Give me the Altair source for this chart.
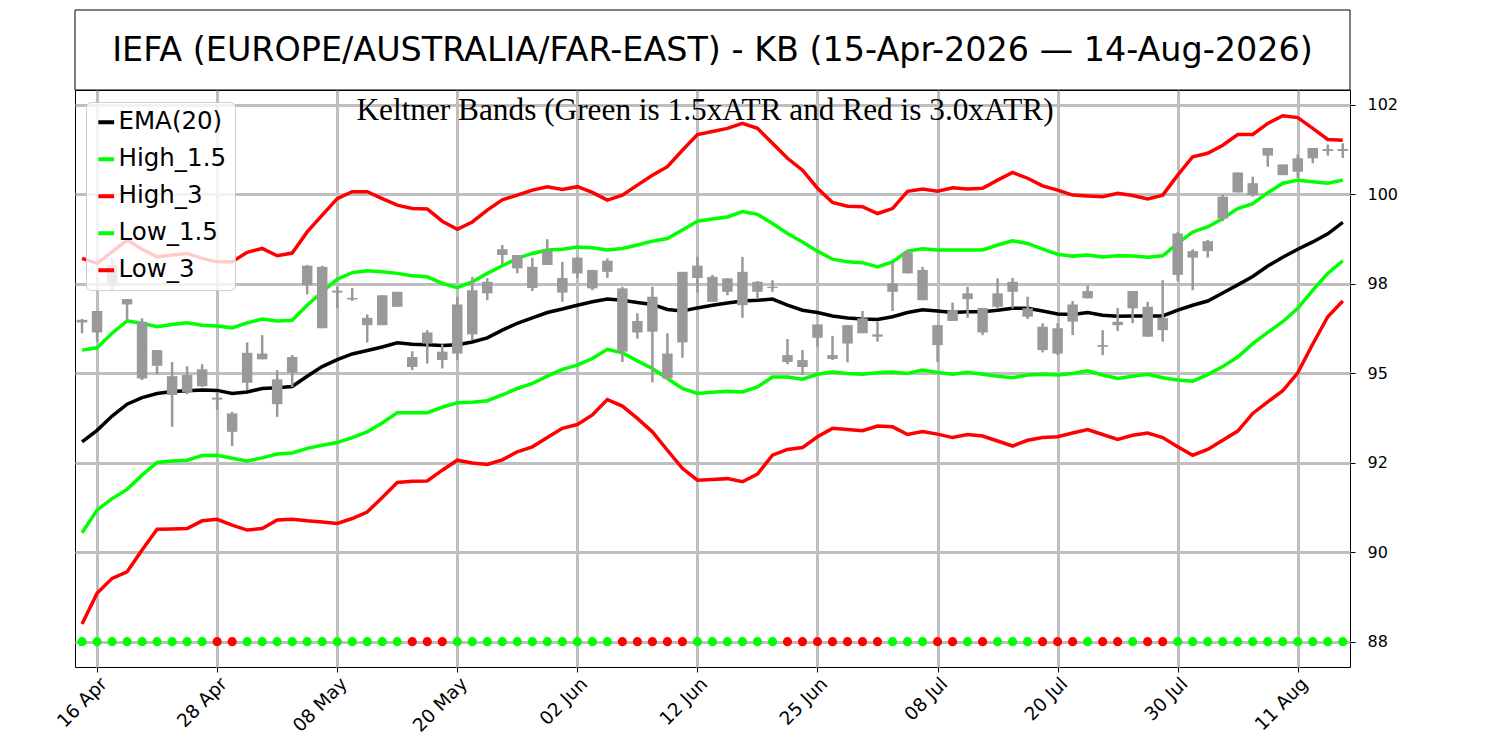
import altair as alt
import pandas as pd

# ---------------- data ----------------
title_text = "IEFA (EUROPE/AUSTRALIA/FAR-EAST) - KB (15-Apr-2026 \u2014 14-Aug-2026)"
subtitle_text = "Keltner Bands (Green is 1.5xATR and Red is 3.0xATR)"

day_index = list(range(85))

tick_idx = [1, 9, 17, 25, 33, 41, 49, 57, 65, 73, 81]
tick_labels = ["16 Apr", "28 Apr", "08 May", "20 May", "02 Jun", "12 Jun",
               "25 Jun", "08 Jul", "20 Jul", "30 Jul", "11 Aug"]

y_tick_vals = [88.0, 90.3333, 92.6667, 95.0, 97.3333, 99.6667, 102.0]
y_tick_labels = ["88", "90", "92", "95", "98", "100", "102"]

ema = [93.21, 93.51, 93.88, 94.19, 94.36, 94.47, 94.52, 94.54, 94.56, 94.55,
       94.47, 94.51, 94.60, 94.62, 94.65, 94.92, 95.17, 95.35, 95.50, 95.59,
       95.68, 95.79, 95.75, 95.74, 95.72, 95.74, 95.81, 95.92, 96.12, 96.30,
       96.44, 96.58, 96.67, 96.77, 96.86, 96.93, 96.90, 96.84, 96.79, 96.66,
       96.62, 96.70, 96.77, 96.83, 96.88, 96.90, 96.93, 96.77, 96.64, 96.58,
       96.49, 96.44, 96.41, 96.40, 96.47, 96.58, 96.65, 96.62, 96.58, 96.60,
       96.60, 96.64, 96.69, 96.69, 96.62, 96.54, 96.53, 96.58, 96.51, 96.48,
       96.49, 96.49, 96.49, 96.64, 96.77, 96.88, 97.09, 97.30, 97.52, 97.79,
       98.02, 98.23, 98.42, 98.63, 98.93]

high_15 = [95.60, 95.66, 96.04, 96.36, 96.30, 96.21, 96.27, 96.31, 96.25, 96.23,
           96.18, 96.31, 96.41, 96.36, 96.38, 96.77, 97.12, 97.45, 97.62, 97.67,
           97.64, 97.60, 97.54, 97.51, 97.34, 97.23, 97.38, 97.60, 97.80, 97.99,
           98.12, 98.21, 98.23, 98.29, 98.27, 98.21, 98.25, 98.34, 98.44, 98.51,
           98.73, 98.96, 99.02, 99.07, 99.21, 99.14, 98.90, 98.64, 98.42, 98.18,
           97.97, 97.90, 97.88, 97.77, 97.90, 98.18, 98.24, 98.21, 98.21, 98.21,
           98.21, 98.34, 98.45, 98.38, 98.23, 98.10, 98.05, 98.08, 98.03, 98.06,
           98.05, 98.02, 98.06, 98.38, 98.68, 98.81, 99.03, 99.29, 99.42, 99.70,
           99.95, 100.03, 99.99, 99.95, 100.03]

high_3 = [97.99, 97.86, 98.16, 98.47, 98.23, 98.03, 98.08, 98.12, 97.99, 97.90,
          97.90, 98.15, 98.25, 98.06, 98.13, 98.68, 99.12, 99.55, 99.73, 99.73,
          99.55, 99.38, 99.29, 99.28, 98.96, 98.75, 98.94, 99.25, 99.52, 99.64,
          99.77, 99.86, 99.79, 99.86, 99.71, 99.51, 99.64, 99.90, 100.16, 100.38,
          100.81, 101.22, 101.30, 101.38, 101.51, 101.38, 100.99, 100.60, 100.29, 99.82,
          99.45, 99.35, 99.34, 99.16, 99.29, 99.74, 99.80, 99.74, 99.83, 99.80,
          99.82, 100.03, 100.23, 100.08, 99.88, 99.77, 99.64, 99.62, 99.60, 99.69,
          99.63, 99.54, 99.64, 100.16, 100.64, 100.73, 100.94, 101.22, 101.22, 101.51,
          101.71, 101.66, 101.38, 101.09, 101.07]

low_15 = [90.84, 91.43, 91.73, 91.97, 92.34, 92.67, 92.71, 92.73, 92.85, 92.86,
          92.78, 92.71, 92.79, 92.89, 92.92, 93.04, 93.12, 93.19, 93.32, 93.47,
          93.70, 93.97, 93.97, 93.97, 94.11, 94.23, 94.24, 94.28, 94.43, 94.60,
          94.73, 94.92, 95.10, 95.21, 95.38, 95.62, 95.53, 95.32, 95.12, 94.86,
          94.60, 94.47, 94.50, 94.53, 94.51, 94.64, 94.90, 94.90, 94.84, 94.97,
          95.03, 94.99, 94.97, 95.01, 95.03, 94.99, 95.08, 95.02, 94.97, 95.02,
          94.97, 94.92, 94.88, 94.95, 94.97, 94.95, 94.99, 95.06, 94.95, 94.86,
          94.92, 94.97, 94.88, 94.82, 94.79, 94.96, 95.17, 95.42, 95.77, 96.06,
          96.34, 96.69, 97.16, 97.60, 97.93]

low_3 = [88.46, 89.26, 89.65, 89.82, 90.39, 90.93, 90.94, 90.95, 91.15, 91.19,
         91.04, 90.91, 90.95, 91.17, 91.19, 91.15, 91.12, 91.08, 91.21, 91.38,
         91.76, 92.15, 92.18, 92.19, 92.47, 92.73, 92.66, 92.62, 92.74, 92.95,
         93.08, 93.32, 93.56, 93.66, 93.91, 94.31, 94.14, 93.82, 93.47, 92.99,
         92.52, 92.21, 92.23, 92.25, 92.17, 92.37, 92.86, 93.01, 93.06, 93.34,
         93.56, 93.53, 93.50, 93.62, 93.60, 93.40, 93.48, 93.41, 93.32, 93.40,
         93.36, 93.23, 93.10, 93.25, 93.32, 93.34, 93.44, 93.53, 93.40, 93.27,
         93.38, 93.44, 93.32, 93.08, 92.86, 93.01, 93.25, 93.49, 93.95, 94.25,
         94.54, 95.01, 95.76, 96.47, 96.88]

candle_high = [96.41, 96.62, 98.00, 96.93, 96.43, 95.60, 95.29, 95.18, 95.23, 94.51,
               93.99, 95.80, 95.99, 95.08, 95.47, 97.82, 97.80, 97.25, 97.22, 96.53,
               97.03, 97.12, 95.57, 96.12, 95.75, 96.99, 97.51, 97.48, 98.34, 98.08,
               98.01, 98.49, 97.90, 98.03, 97.69, 97.99, 97.25, 96.56, 97.25, 96.04,
               97.64, 98.03, 97.56, 97.48, 98.03, 97.40, 97.42, 95.89, 95.60, 96.27,
               95.97, 96.25, 96.62, 96.34, 97.90, 98.21, 97.77, 96.25, 96.84, 97.25,
               96.70, 97.47, 97.48, 96.99, 96.30, 96.30, 96.88, 97.28, 96.12, 96.70,
               97.14, 96.86, 97.42, 98.68, 98.23, 98.47, 99.66, 100.23, 100.12, 100.87,
               100.44, 100.70, 100.87, 100.96, 100.99]

candle_low = [96.04, 95.82, 97.16, 96.38, 94.82, 94.97, 93.60, 94.45, 94.64, 94.04,
              93.10, 94.56, 95.36, 93.86, 94.64, 97.05, 96.17, 96.69, 96.88, 95.80,
              96.25, 96.73, 95.08, 95.25, 95.12, 95.34, 95.86, 96.90, 97.82, 97.60,
              97.14, 97.82, 96.86, 97.48, 97.16, 97.48, 95.29, 95.90, 94.76, 94.82,
              95.40, 97.10, 96.86, 97.03, 96.44, 96.93, 97.12, 95.23, 94.95, 95.69,
              95.34, 95.28, 96.04, 95.82, 96.62, 97.60, 96.90, 95.29, 96.36, 96.44,
              95.99, 96.69, 96.69, 96.41, 95.54, 95.47, 95.99, 96.95, 95.47, 96.10,
              96.30, 95.95, 95.82, 97.40, 97.16, 98.01, 98.96, 99.71, 99.60, 100.38,
              100.16, 100.09, 100.47, 100.67, 100.61]

candle_open = [96.39, 96.62, 97.82, 96.93, 96.34, 95.60, 94.92, 94.95, 95.10, 94.36,
               93.95, 95.53, 95.51, 94.84, 95.42, 97.80, 97.77, 97.15, 96.96, 96.44,
               97.03, 97.12, 95.42, 96.06, 95.56, 96.79, 97.16, 97.38, 98.23, 98.08,
               97.77, 98.18, 97.48, 98.01, 97.69, 97.93, 97.21, 96.36, 96.99, 95.51,
               97.64, 97.80, 97.51, 97.47, 97.64, 97.38, 97.25, 95.47, 95.34, 96.27,
               95.47, 96.25, 96.43, 96.01, 97.34, 98.15, 97.69, 96.25, 96.62, 97.08,
               96.70, 97.08, 97.38, 96.69, 96.21, 96.17, 96.79, 97.14, 95.73, 96.34,
               97.14, 96.73, 96.44, 98.64, 98.18, 98.44, 99.60, 100.23, 99.95, 100.87,
               100.44, 100.60, 100.87, 100.84, 100.84]

candle_close = [96.32, 96.06, 97.29, 96.79, 94.86, 95.19, 94.43, 94.51, 94.66, 94.31,
                93.47, 94.75, 95.36, 94.19, 95.01, 97.29, 96.17, 97.10, 96.92, 96.25,
                96.25, 96.73, 95.16, 95.77, 95.34, 95.51, 96.01, 97.08, 98.08, 97.73,
                97.22, 97.82, 97.10, 97.60, 97.21, 97.64, 95.56, 96.06, 96.08, 94.86,
                95.80, 97.48, 96.86, 97.12, 96.77, 97.12, 97.22, 95.29, 95.16, 95.92,
                95.37, 95.77, 96.04, 95.95, 97.12, 97.60, 96.90, 95.73, 96.36, 96.93,
                96.06, 96.73, 97.12, 96.47, 95.60, 95.51, 96.34, 96.95, 95.69, 96.25,
                96.69, 95.95, 96.12, 97.56, 98.01, 98.18, 99.03, 99.71, 99.64, 100.67,
                100.16, 100.25, 100.60, 100.79, 100.79]

signal_level = 88.0
signal = list("GGGGGGGGG" "RR" "GGGGGGGGGGG" "RRR" "GGGGGGGGGGG" "RRRRR"
              "GGGGGG" "RRRRRRR" "GGG" "RR" "G" "R" "GGG" "RRR" "G" "RR" "G" "RR"
              "GGGGGGGGGGGG")

series_names = ["EMA(20)", "High_1.5", "High_3", "Low_1.5", "Low_3"]
series_colors = ["#000000", "#00ff00", "#ff0000", "#00ff00", "#ff0000"]
signal_colors = {"G": "#00ff00", "R": "#ff0000"}

# ---------------- frames ----------------
lines_df = pd.concat([
    pd.DataFrame({"i": day_index, "series": name, "value": vals})
    for name, vals in zip(series_names, [ema, high_15, high_3, low_15, low_3])
], ignore_index=True)

candles_df = pd.DataFrame({"i": day_index, "open": candle_open, "high": candle_high,
                           "low": candle_low, "close": candle_close})

dots_df = pd.DataFrame({"i": day_index, "level": [signal_level] * len(day_index),
                        "fillc": [signal_colors[s] for s in signal]})

text_df = pd.DataFrame({"t": [title_text]})
sub_df = pd.DataFrame({"t": [subtitle_text]})

# ---------------- scales / axes ----------------
def ternary(values, labels):
    expr = "''"
    for v, lab in reversed(list(zip(values, labels))):
        expr = f"(abs(datum.value - {v}) < 0.01 ? '{lab}' : {expr})"
    return expr

W, H = 1275, 577
GRID = "#bfbfbf"

x_scale = alt.Scale(domain=[-0.47, 84.48], nice=False, zero=False, padding=0)
y_scale = alt.Scale(domain=[87.34, 102.38], nice=False, zero=False, padding=0)

x_axis = alt.Axis(values=tick_idx, labelExpr=ternary(tick_idx, tick_labels),
                  labelAngle=-45, labelAlign="right", labelBaseline="top",
                  labelFontSize=18.5, labelFont="DejaVu Sans", labelColor="black",
                  tickColor="black", tickSize=5, tickWidth=1, labelPadding=2,
                  domain=False, grid=True, gridColor=GRID, gridWidth=3,
                  labelFlush=False, labelOverlap=False, title=None)
y_axis = alt.Axis(orient="right", values=y_tick_vals,
                  labelExpr=ternary(y_tick_vals, y_tick_labels),
                  labelFontSize=16, labelFont="DejaVu Sans", labelColor="black",
                  tickColor="black", tickSize=5, tickWidth=1, labelPadding=12,
                  domain=False, grid=True, gridColor=GRID, gridWidth=3,
                  labelFlush=False, labelOverlap=False, title=None)

X = alt.X("i:Q", scale=x_scale, axis=x_axis)


def Y(field):
    return alt.Y(f"{field}:Q", scale=y_scale, axis=y_axis)


# ---------------- layers ----------------
title_box = alt.Chart(text_df).mark_rect(fill="white", stroke="black", strokeWidth=1).encode(
    x=alt.value(0), x2=alt.value(W), y=alt.value(-80), y2=alt.value(0))
title_mark = alt.Chart(text_df).mark_text(font="DejaVu Sans", fontSize=33.4, align="center",
                                          baseline="alphabetic", color="black").encode(
    x=alt.value(W / 2), y=alt.value(-29), text="t:N")

lines = alt.Chart(lines_df).mark_line(strokeWidth=3.5).encode(
    x=X, y=Y("value"),
    color=alt.Color("series:N",
                    scale=alt.Scale(domain=series_names, range=series_colors),
                    sort=series_names,
                    legend=alt.Legend(title=None, orient="none", legendX=11, legendY=12,
                                      fillColor="rgba(255,255,255,0.8)", strokeColor="#cccccc",
                                      cornerRadius=5, padding=8, labelFontSize=24.5,
                                      labelFont="DejaVu Sans", labelColor="black",
                                      symbolType="stroke", symbolStrokeWidth=4,
                                      symbolSize=250, rowPadding=12, labelOffset=0,
                                      labelLimit=400)),
    detail="series:N")

wicks = alt.Chart(candles_df).mark_rule(color="#999999", strokeWidth=2.5).encode(
    x=X, y=Y("low"), y2="high:Q")
bodies = alt.Chart(candles_df).mark_bar(color="#999999", size=10.5).encode(
    x=X, y=Y("open"), y2="close:Q")

dots = alt.Chart(dots_df).mark_circle(size=85, opacity=1).encode(
    x=X, y=Y("level"), fill=alt.Fill("fillc:N", scale=None))

subtitle = alt.Chart(sub_df).mark_text(font="Liberation Serif", fontSize=31.3, align="center",
                                       baseline="alphabetic", color="black").encode(
    x=alt.value(630), y=alt.value(30), text="t:N")

chart = alt.layer(title_box, title_mark, lines, wicks, bodies, dots, subtitle).properties(
    width=W, height=H,
    padding={"left": 67, "top": 82, "right": 130, "bottom": 75},
    autosize=alt.AutoSizeParams(type="none"),
    background="white",
).configure_view(stroke="black", strokeWidth=1)

chart.save("out.html", embed_options={"renderer": "svg", "actions": False})
